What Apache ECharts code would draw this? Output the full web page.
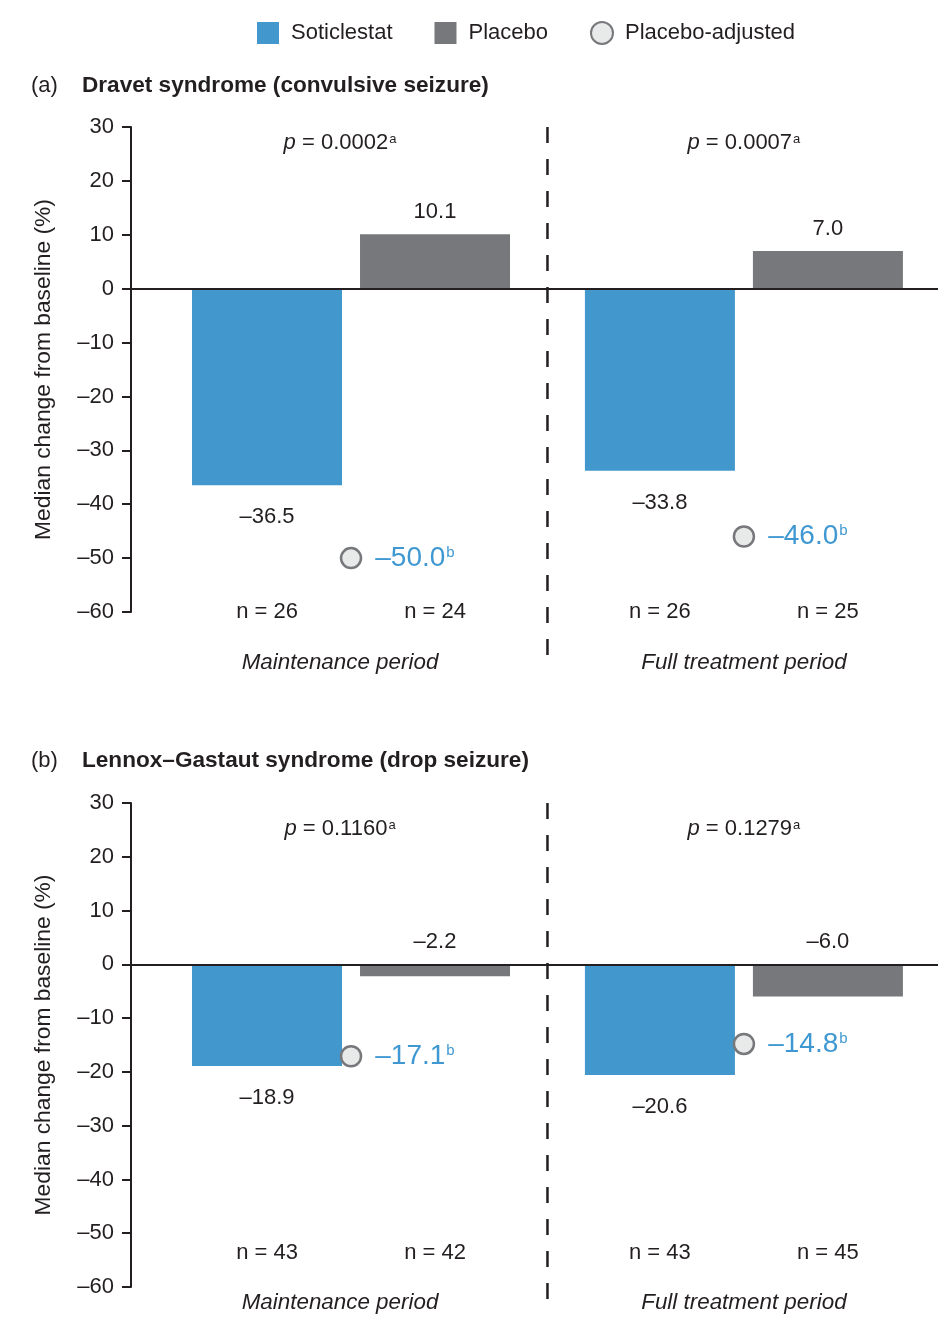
<!DOCTYPE html>
<html><head><meta charset="utf-8">
<script src="https://cdn.jsdelivr.net/npm/echarts@6/dist/echarts.min.js"></script>
<style>html,body{margin:0;padding:0;background:#fff}#c{width:938px;height:1317px}</style>
</head><body><div id="c"></div><script>
// ---------- data ----------
const periods = ['Maintenance period', 'Full treatment period'];
const seriesNames = ['Soticlestat', 'Placebo', 'Placebo-adjusted'];
const panelLetters = ['(a)', '(b)'];
const panelTitles = ['Dravet syndrome (convulsive seizure)', 'Lennox\u2013Gastaut syndrome (drop seizure)'];

const dravetSoticlestat = [-36.5, -33.8];
const dravetPlacebo = [10.1, 7.0];
const dravetAdjusted = [-50.0, -46.0];
const dravetNSoticlestat = [26, 26];
const dravetNPlacebo = [24, 25];
const dravetP = ['0.0002', '0.0007'];

const lgsSoticlestat = [-18.9, -20.6];
const lgsPlacebo = [-2.2, -6.0];
const lgsAdjusted = [-17.1, -14.8];
const lgsNSoticlestat = [43, 43];
const lgsNPlacebo = [42, 45];
const lgsP = ['0.1160', '0.1279'];

const Y_MIN = -60, Y_MAX = 30, Y_STEP = 10;

// ---------- layout / style ----------
const FONT = 'Liberation Sans, Arial, Helvetica, sans-serif';
const TXT = '#231f20';
const BLUE = '#4297cc';
const GRAY = '#76787b';
const ADJ_BLUE = '#3f98d1';
const GRID_LEFT = 131, GRID_W = 807;
const X_MIN = -0.56, X_MAX = 1.494;
const BAR_W = 150, BAR_GAP_PX = 18;
const PX_PER_UNIT = GRID_W / (X_MAX - X_MIN);
const BAR_OFF = (BAR_W + BAR_GAP_PX) / 2 / PX_PER_UNIT;
const PERIOD_TEXT_SHIFT = [-11, 0]; // horizontal nudge of period-level text (px)

const layouts = [
  { top: 127, height: 485, titleTop: 74, nY: -60, periodY: -69.4, pY: 27.0, divEnd: -68.3 },
  { top: 803, height: 484, titleTop: 749, nY: -53.7, periodY: -63.0, pY: 25.2, divEnd: -62.3 }
];

const panelData = [
  { sot: dravetSoticlestat, pla: dravetPlacebo, adj: dravetAdjusted, nS: dravetNSoticlestat, nP: dravetNPlacebo, p: dravetP },
  { sot: lgsSoticlestat, pla: lgsPlacebo, adj: lgsAdjusted, nS: lgsNSoticlestat, nP: lgsNPlacebo, p: lgsP }
];

const fmt = v => (v < 0 ? '\u2013' : '') + Math.abs(v).toFixed(1);
const fmtTick = v => (v < 0 ? '\u2013' : '') + Math.abs(v);

const grids = [], xAxes = [], yAxes = [], series = [], titles = [];

layouts.forEach((L, k) => {
  const D = panelData[k];
  grids.push({ left: GRID_LEFT, top: L.top, width: GRID_W, height: L.height, containLabel: false, outerBoundsMode: 'none' });
  xAxes.push({
    gridIndex: k, type: 'value', min: X_MIN, max: X_MAX, z: 10,
    axisLine: { show: true, onZero: true, lineStyle: { color: TXT, width: 2 } },
    axisTick: { show: false }, axisLabel: { show: false }, splitLine: { show: false }
  });
  yAxes.push({
    gridIndex: k, type: 'value', min: Y_MIN, max: Y_MAX, interval: Y_STEP,
    axisLine: { show: true, onZero: false, lineStyle: { color: TXT, width: 2 } },
    axisTick: { show: true, inside: false, length: 9, lineStyle: { color: TXT, width: 2 } },
    axisLabel: { show: true, fontSize: 22, color: TXT, margin: 17, fontFamily: FONT, formatter: fmtTick, showMinLabel: true, showMaxLabel: true },
    splitLine: { show: false },
    name: 'Median change from baseline (%)', nameLocation: 'middle', nameGap: 76,
    nameTextStyle: { fontSize: 22.8, color: TXT, fontFamily: FONT }
  });
  titles.push({
    text: '{a|' + panelLetters[k] + '}{t|' + panelTitles[k] + '}',
    left: 31, top: L.titleTop, padding: 0,
    textStyle: {
      fontSize: 22, color: TXT, fontFamily: FONT,
      rich: {
        a: { fontSize: 22, color: TXT, fontFamily: FONT, fontWeight: 'normal', width: 51 },
        t: { fontSize: 22.6, color: TXT, fontFamily: FONT, fontWeight: 'bold' }
      }
    }
  });
  const ax = { xAxisIndex: k, yAxisIndex: k };
  series.push({
    ...ax, type: 'bar', name: seriesNames[0], barWidth: BAR_W, barGap: (BAR_GAP_PX / BAR_W * 100) + '%',
    data: D.sot.map((v, i) => [i, v]), itemStyle: { color: BLUE }, z: 2,
    label: { show: true, position: 'bottom', distance: 21, fontSize: 22, color: TXT, fontFamily: FONT, formatter: p => fmt(p.value[1]) }
  });
  series.push({
    ...ax, type: 'bar', name: seriesNames[1], barWidth: BAR_W, barGap: (BAR_GAP_PX / BAR_W * 100) + '%',
    data: D.pla.map((v, i) => [i, v]), itemStyle: { color: GRAY }, z: 2,
    label: { show: true, position: 'top', distance: 11, fontSize: 22, color: TXT, fontFamily: FONT, formatter: p => fmt(p.value[1]) }
  });
  series.push({
    ...ax, type: 'scatter', name: seriesNames[2], symbol: 'circle', symbolSize: 20, z: 5, clip: false,
    data: D.adj.map((v, i) => [i, v]),
    itemStyle: { color: '#e8e9e9', borderColor: '#77787b', borderWidth: 2.5, opacity: 1 },
    label: {
      show: true, position: 'right', distance: 13,
      formatter: p => '{v|' + fmt(p.value[1]) + '}{s|b}',
      rich: {
        v: { fontSize: 28, color: ADJ_BLUE, fontFamily: FONT },
        s: { fontSize: 15, color: ADJ_BLUE, fontFamily: FONT, verticalAlign: 'top', padding: [1, 0, 0, 1] }
      }
    }
  });
  // dashed divider between the two periods
  series.push({
    ...ax, type: 'line', name: 'divider', silent: true, clip: false, symbol: 'none', z: 1,
    data: [[(periods.length - 1) / 2, Y_MAX], [(periods.length - 1) / 2, L.divEnd]],
    lineStyle: { color: TXT, width: 2.5, type: [16, 16], dashOffset: 0 }
  });
  const textSeries = { ...ax, type: 'scatter', symbolSize: 0, silent: true, clip: false, itemStyle: { opacity: 1 } };
  // n labels below bars
  const nData = [];
  periods.forEach((_, i) => {
    nData.push({ value: [i - BAR_OFF, L.nY], name: 'n = ' + D.nS[i] });
    nData.push({ value: [i + BAR_OFF, L.nY], name: 'n = ' + D.nP[i] });
  });
  series.push({
    ...textSeries, name: 'nLabels', data: nData,
    label: { show: true, position: 'inside', formatter: '{b}', fontSize: 22, color: TXT, fontFamily: FONT }
  });
  // period names
  series.push({
    ...textSeries, name: 'periodLabels',
    data: periods.map((n, i) => ({ value: [i, L.periodY], name: n, label: { offset: i === 0 ? PERIOD_TEXT_SHIFT : [0, 0] } })),
    label: { show: true, position: 'inside', formatter: '{b}', fontSize: 22.4, fontStyle: 'italic', color: TXT, fontFamily: FONT }
  });
  // p values
  series.push({
    ...textSeries, name: 'pLabels',
    data: D.p.map((pv, i) => ({ value: [i, L.pY], name: pv, label: { offset: i === 0 ? PERIOD_TEXT_SHIFT : [0, 0] } })),
    label: {
      show: true, position: 'inside', color: TXT,
      formatter: p => '{i|p}{t| = ' + p.name + '}{s|a}',
      rich: {
        i: { fontSize: 22, fontStyle: 'italic', color: TXT, fontFamily: FONT },
        t: { fontSize: 22, color: TXT, fontFamily: FONT },
        s: { fontSize: 13, color: TXT, fontFamily: FONT, verticalAlign: 'top', padding: [1, 0, 0, 1] }
      }
    }
  });
});

const chart = echarts.init(document.getElementById('c'), null, { renderer: 'canvas' });
chart.setOption({
  animation: false,
  backgroundColor: '#fff',
  textStyle: { fontFamily: FONT },
  title: titles,
  legend: {
    left: 257, top: 21, padding: 0, itemWidth: 22, itemHeight: 22, itemGap: 42,
    data: [
      { name: seriesNames[0], icon: 'rect' },
      { name: seriesNames[1], icon: 'rect' },
      { name: seriesNames[2], icon: 'circle' }
    ],
    textStyle: { fontSize: 22, color: TXT, fontFamily: FONT, padding: [0, 0, 0, 7] }
  },
  grid: grids,
  xAxis: xAxes,
  yAxis: yAxes,
  series: series
});
</script></body></html>
